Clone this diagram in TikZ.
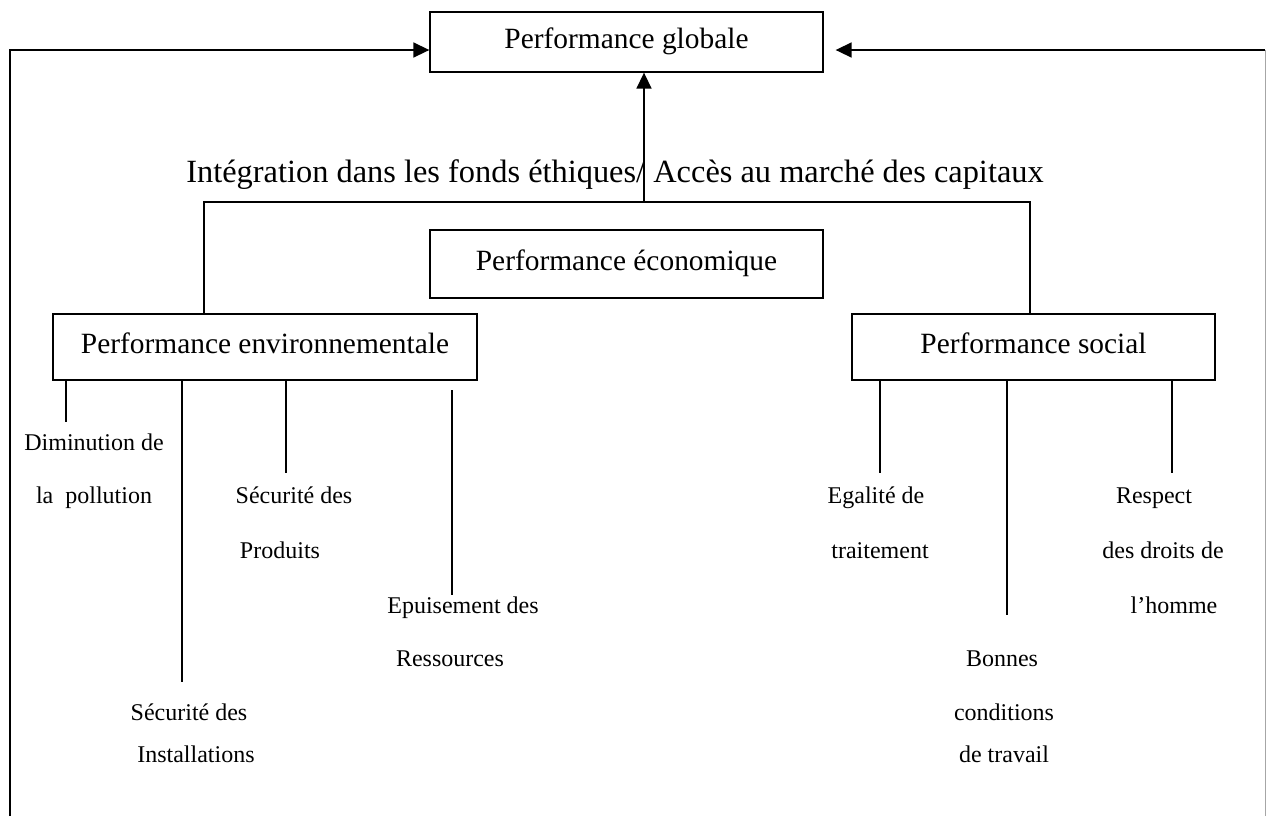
\documentclass[tikz,border=0pt]{standalone}
\usepackage{fontspec}
\setmainfont{Liberation Serif}
\usetikzlibrary{arrows.meta}
\tikzset{
  box/.style={draw, line width=0.65pt, inner sep=0pt, font=\bigfont, text height=0.78em, text depth=0.18em},
  lbl/.style={inner sep=0pt, anchor=base, font=\smallfont},
  conn/.style={line width=0.65pt},
  arr/.style={line width=0.8pt, -{Triangle[length=8pt,width=7.5pt]}},
}
\newcommand{\bigfont}{\fontsize{14.7}{17}\selectfont}
\newcommand{\midfont}{\fontsize{16.2}{19}\selectfont}
\newcommand{\smallfont}{\fontsize{12}{14}\selectfont}
\begin{document}
\begin{tikzpicture}[x=0.5pt,y=-0.5pt]
\useasboundingbox (0,0) rectangle (1266,816);
% boxes
\node[box, minimum width=196.5pt, minimum height=30pt] (glob) at (626.5,42) {Performance globale};
\node[box, minimum width=196.5pt, minimum height=34pt] (eco) at (626.5,264) {Performance économique};
\node[box, minimum width=212pt, minimum height=33pt] (env) at (265,347) {Performance environnementale};
\node[box, minimum width=181.5pt, minimum height=33pt] (soc) at (1033.5,347) {Performance social};
\node[inner sep=0pt, anchor=base, font=\midfont] (integ) at (615,182) {Intégration dans les fonds éthiques/ Accès au marché des capitaux};
% labels environment
\node[lbl] (dim1) at (94,450) {Diminution de};
\node[lbl] (dim2) at (94,503) {la\ \ pollution};
\node[lbl] (sp1) at (294,503) {Sécurité des};
\node[lbl] (sp2) at (280,558) {Produits};
\node[lbl] (ep1) at (463,613) {Epuisement des};
\node[lbl] (ep2) at (450,666) {Ressources};
\node[lbl] (si1) at (189,720) {Sécurité des};
\node[lbl] (si2) at (196,762) {Installations};
% labels social
\node[lbl] (eg1) at (876,503) {Egalité de};
\node[lbl] (eg2) at (880,558) {traitement};
\node[lbl] (re1) at (1154,503) {Respect};
\node[lbl] (re2) at (1163,558) {des droits de};
\node[lbl] (re3) at (1174,613) {l’homme};
\node[lbl] (bo1) at (1002,666) {Bonnes};
\node[lbl] (bo2) at (1004,720) {conditions};
\node[lbl] (bo3) at (1004,762) {de travail};
% coordinates
\coordinate (lb) at (10,816);
\coordinate (rb) at (1265,816);
\coordinate (rt) at (1265,50);
\coordinate (bl) at (204,202);
\coordinate (bm) at (644,202);
\coordinate (br) at (1030,202);
\coordinate (e1) at (66,422);
\coordinate (e2) at (182,682);
\coordinate (e3) at (286,473);
\coordinate (e4s) at (452,390);
\coordinate (e4) at (452,595);
\coordinate (s1) at (880,473);
\coordinate (s2) at (1007,615);
\coordinate (s3) at (1172,473);
% outer feedback arrows
\draw[arr] (lb) |- ([yshift=-4pt]glob.west);
\draw[line width=0.5pt, gray!70] (rb) -- (rt);
\draw[arr] (rt) -- ([xshift=6pt,yshift=-4pt]glob.east);
% central arrow and bar
\draw[arr] (bm) -- (bm |- glob.south);
\draw[conn] (bl |- env.north) -- (bl) -- (br) -- (br |- soc.north);
% environment branches
\draw[conn] (e1 |- env.south) -- (e1);
\draw[conn] (e2 |- env.south) -- (e2);
\draw[conn] (e3 |- env.south) -- (e3);
\draw[conn] (e4s) -- (e4);
% social branches
\draw[conn] (s1 |- soc.south) -- (s1);
\draw[conn] (s2 |- soc.south) -- (s2);
\draw[conn] (s3 |- soc.south) -- (s3);
\end{tikzpicture}
\end{document}
